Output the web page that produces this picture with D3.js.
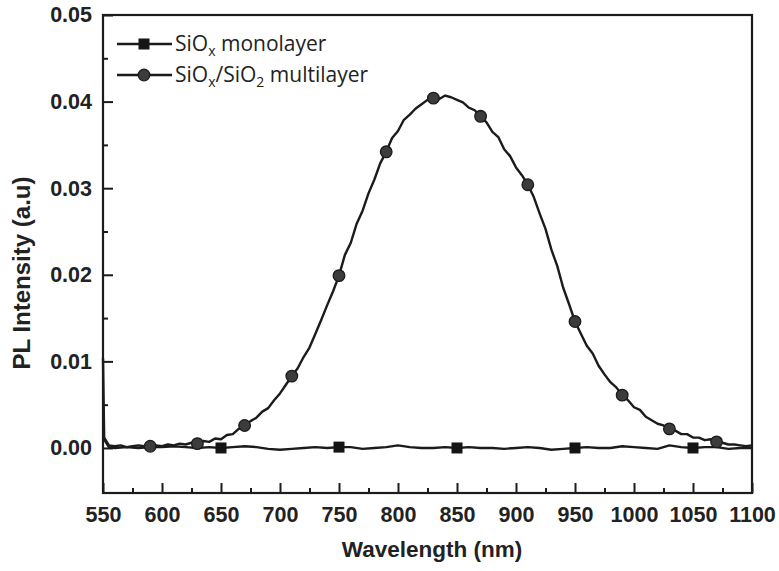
<!DOCTYPE html>
<html>
<head>
<meta charset="utf-8">
<script src="https://cdn.jsdelivr.net/npm/d3@7"></script>
<style>
  html, body { margin: 0; padding: 0; background: #fff; }
  svg { display: block; }
</style>
</head>
<body>
<svg id="chart" width="779" height="571"></svg>
<script>
// PL spectra: SiOx monolayer vs SiOx/SiO2 multilayer
const monoWavelength = [550, 555, 560, 570, 580, 590, 600, 610, 620, 630, 640, 650, 660, 670, 680, 690, 700,
  710, 720, 730, 740, 750, 760, 770, 780, 790, 800, 810, 820, 830, 840, 850, 860, 870, 880, 890, 900,
  910, 920, 930, 940, 950, 960, 970, 980, 990, 1000, 1010, 1020, 1030, 1040, 1050, 1060, 1070, 1080, 1090, 1100];
const monoIntensity = [0.0012, 0.0001, 0.0000, 0.0001, 0.0000, 0.0001, 0.0001, 0.0002, 0.0001, 0.0000, 0.0001,
  0.0000, 0.0001, 0.0002, 0.0001, -0.0001, -0.0002, -0.0001, 0.0000, 0.0001, 0.0000, 0.0001, 0.0001, -0.0001,
  0.0000, 0.0001, 0.0003, 0.0001, 0.0000, 0.0000, 0.0001, 0.0000, 0.0001, 0.0000, 0.0000, -0.0001, 0.0000,
  0.0001, 0.0000, -0.0002, -0.0001, 0.0000, 0.0001, 0.0000, 0.0000, 0.0002, 0.0001, 0.0000, -0.0001, 0.0003,
  0.0001, 0.0000, 0.0001, 0.0001, -0.0001, 0.0000, 0.0000];

const multiWavelength = [550, 551, 555, 560, 565, 570, 575, 580, 585, 590, 595, 600, 605, 610, 615, 620, 625,
  630, 635, 640, 645, 650, 655, 660, 665, 670, 675, 680, 685, 690, 695, 700, 705, 710, 715, 720, 725, 730,
  735, 740, 745, 750, 755, 760, 765, 770, 775, 780, 785, 790, 795, 800, 805, 810, 815, 820, 825, 830, 835,
  840, 845, 850, 855, 860, 865, 870, 875, 880, 885, 890, 895, 900, 905, 910, 915, 920, 925, 930, 935, 940,
  945, 950, 955, 960, 965, 970, 975, 980, 985, 990, 995, 1000, 1005, 1010, 1015, 1020, 1025, 1030, 1035,
  1040, 1045, 1050, 1055, 1060, 1065, 1070, 1075, 1080, 1085, 1090, 1095, 1100];
const multiIntensity = [0.0104, 0.0012, 0.0003, 0.0002, 0.0003, 0.0001, 0.0002, 0.0003, 0.0002, 0.0002, 0.0003,
  0.0002, 0.0004, 0.0003, 0.0005, 0.0004, 0.0006, 0.0005, 0.0008, 0.0007, 0.0011, 0.0010, 0.0015, 0.0016,
  0.0022, 0.0026, 0.0031, 0.0035, 0.0042, 0.0046, 0.0055, 0.0063, 0.0073, 0.0083, 0.0092, 0.0105, 0.0116,
  0.0132, 0.0148, 0.0165, 0.0181, 0.0199, 0.0223, 0.0237, 0.0259, 0.0274, 0.0294, 0.0310, 0.0329, 0.0342,
  0.0358, 0.0366, 0.0379, 0.0385, 0.0392, 0.0397, 0.0402, 0.0404, 0.0403, 0.0407, 0.0405, 0.0402, 0.0399,
  0.0393, 0.0390, 0.0383, 0.0376, 0.0365, 0.0359, 0.0345, 0.0337, 0.0324, 0.0315, 0.0304, 0.0290, 0.0271,
  0.0253, 0.0229, 0.0210, 0.0185, 0.0166, 0.0146, 0.0132, 0.0118, 0.0109, 0.0095, 0.0085, 0.0076, 0.0070,
  0.0061, 0.0055, 0.0047, 0.0044, 0.0036, 0.0032, 0.0028, 0.0026, 0.0022, 0.0020, 0.0016, 0.0016, 0.0012,
  0.0012, 0.0009, 0.0010, 0.0007, 0.0006, 0.0004, 0.0004, 0.0003, 0.0002, 0.0003];

const monoMarkers = [650, 750, 850, 950, 1050];
const multiMarkers = [590, 630, 670, 710, 750, 790, 830, 870, 910, 950, 990, 1030, 1070];

const xTicks = [550, 600, 650, 700, 750, 800, 850, 900, 950, 1000, 1050, 1100];
const yTicks = [0.00, 0.01, 0.02, 0.03, 0.04, 0.05];
const xMinorTicks = [575, 625, 675, 725, 775, 825, 875, 925, 975, 1025, 1075];
const yMinorTicks = [0.005, 0.015, 0.025, 0.035, 0.045];

const svg = d3.select("#chart");
const plotLeft = 103, plotRight = 752, plotTop = 15, plotBottom = 493;

const x = d3.scaleLinear().domain([550, 1100]).range([plotLeft, plotRight]);
const y = d3.scaleLinear().domain([-0.0052, 0.05]).range([plotBottom, plotTop]);

const ink = "#1b1b1b";
const boldFont = "'Liberation Sans', Arial, Helvetica, sans-serif";

// axes with inward major and minor ticks
svg.append("g").attr("transform", `translate(0,${plotBottom})`)
  .call(d3.axisBottom(x).tickValues(xTicks).tickSize(-10).tickPadding(14).tickFormat(d3.format("d")));
svg.append("g").attr("transform", `translate(0,${plotBottom})`)
  .call(d3.axisBottom(x).tickValues(xMinorTicks).tickSize(-5).tickFormat(""));

svg.append("g").attr("transform", `translate(${plotLeft},0)`)
  .call(d3.axisLeft(y).tickValues(yTicks).tickSize(-10).tickPadding(11).tickFormat(d3.format(".2f")));
svg.append("g").attr("transform", `translate(${plotLeft},0)`)
  .call(d3.axisLeft(y).tickValues(yMinorTicks).tickSize(-5).tickFormat(""));

svg.selectAll(".domain").remove();
svg.selectAll(".tick line").attr("stroke", ink).attr("stroke-width", 2);
svg.selectAll(".tick text")
  .attr("fill", "#222")
  .style("font-family", boldFont)
  .style("font-weight", "bold")
  .style("font-size", "21.5px");

// frame
svg.append("rect")
  .attr("x", plotLeft).attr("y", plotTop)
  .attr("width", plotRight - plotLeft).attr("height", plotBottom - plotTop)
  .attr("fill", "none").attr("stroke", ink).attr("stroke-width", 2.2);

// axis titles
svg.append("text")
  .attr("x", 432).attr("y", 557)
  .attr("text-anchor", "middle")
  .style("font-family", boldFont)
  .style("font-weight", "bold").style("font-size", "22.5px").attr("fill", "#222")
  .text("Wavelength (nm)");

svg.append("text")
  .attr("transform", "translate(30,273) rotate(-90)")
  .attr("text-anchor", "middle")
  .style("font-family", boldFont)
  .style("font-weight", "bold").style("font-size", "24px").attr("fill", "#222")
  .text("PL Intensity (a.u)");

// series
const line = d3.line().x(d => x(d[0])).y(d => y(d[1]));
const monoData = monoWavelength.map((w, i) => [w, monoIntensity[i]]);
const multiData = multiWavelength.map((w, i) => [w, multiIntensity[i]]);

const plot = svg.append("g");
plot.append("path").datum(monoData).attr("d", line)
  .attr("fill", "none").attr("stroke", ink).attr("stroke-width", 2.4).attr("stroke-linejoin", "round");
plot.append("path").datum(multiData).attr("d", line)
  .attr("fill", "none").attr("stroke", ink).attr("stroke-width", 2.4).attr("stroke-linejoin", "round");

const valueAt = (ws, vs, w) => vs[ws.indexOf(w)];

const sq = 11;
plot.selectAll("rect.mono").data(monoMarkers).join("rect")
  .attr("class", "mono")
  .attr("x", w => x(w) - sq / 2)
  .attr("y", w => y(valueAt(monoWavelength, monoIntensity, w)) - sq / 2)
  .attr("width", sq).attr("height", sq)
  .attr("fill", "#151515");

const rc = 5.8;
plot.selectAll("circle.multi").data(multiMarkers).join("circle")
  .attr("class", "multi")
  .attr("cx", w => x(w))
  .attr("cy", w => y(valueAt(multiWavelength, multiIntensity, w)))
  .attr("r", rc)
  .attr("fill", "#3c3c3c").attr("stroke", "#1b1b1b").attr("stroke-width", 1.3);

// legend
const legend = svg.append("g");
const legendFont = "'Open Sans', 'Noto Sans', sans-serif";
const rows = [
  { yPos: 44, marker: "square", parts: [["SiO", 0], ["x", 1], [" monolayer", 0]] },
  { yPos: 75, marker: "circle", parts: [["SiO", 0], ["x", 1], ["/SiO", 0], ["2", 1], [" multilayer", 0]] }
];
rows.forEach(r => {
  legend.append("line").attr("x1", 117).attr("x2", 172).attr("y1", r.yPos).attr("y2", r.yPos)
    .attr("stroke", ink).attr("stroke-width", 2.4);
  if (r.marker === "square") {
    legend.append("rect").attr("x", 144 - sq / 2).attr("y", r.yPos - sq / 2)
      .attr("width", sq).attr("height", sq).attr("fill", "#151515");
  } else {
    legend.append("circle").attr("cx", 144).attr("cy", r.yPos).attr("r", rc)
      .attr("fill", "#3c3c3c").attr("stroke", "#1b1b1b").attr("stroke-width", 1.3);
  }
  const t = legend.append("text").attr("x", 175).attr("y", r.yPos + 7)
    .style("font-family", legendFont).style("font-size", "21px").attr("fill", "#222");
  r.parts.forEach(([s, sub], i) => {
    const ts = t.append("tspan").text(s);
    if (sub) ts.style("font-size", "14px").attr("dy", 5);
    else if (i > 0) ts.attr("dy", -5);
  });
});
</script>
</body>
</html>
